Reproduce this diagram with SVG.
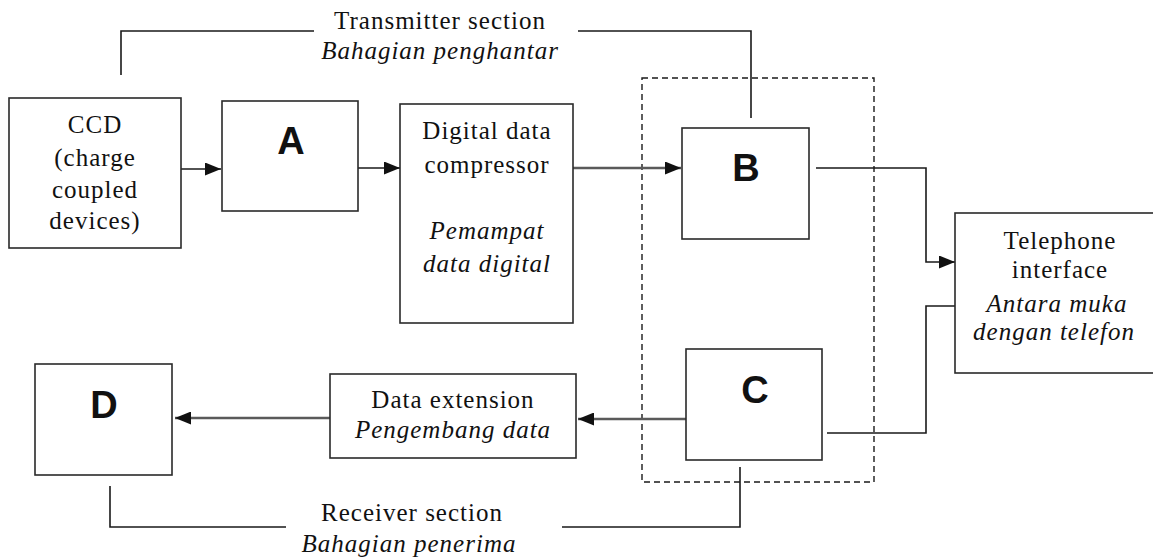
<svg xmlns="http://www.w3.org/2000/svg" width="1153" height="558" viewBox="0 0 1153 558">
<style>
.box{fill:#fff;stroke:#2a2a2a;stroke-width:1.6}
.t{font-family:"Liberation Serif","Times New Roman",serif;font-size:25px;letter-spacing:1px;text-anchor:middle;fill:#111}
.i{font-style:italic}
.big{font-family:"Liberation Sans",Arial,sans-serif;font-weight:bold;font-size:38px;text-anchor:middle;fill:#111}
.ln{fill:none;stroke:#1a1a1a;stroke-width:1.6}
.gr{fill:none;stroke:#5a5a5a;stroke-width:2.6}
.dash{fill:none;stroke:#1a1a1a;stroke-width:1.4;stroke-dasharray:6 4}
</style>
<defs>
<marker id="ah" markerWidth="16" markerHeight="13" refX="16" refY="6.5" orient="auto" markerUnits="userSpaceOnUse">
<path d="M0,0 L16,6.5 L0,13 z" fill="#111"/>
</marker>
</defs>
<rect width="1153" height="558" fill="#fff"/>
<g id="transmitter-label">
<text class="t" x="440" y="29">Transmitter section</text>
<text class="t i" x="440" y="59">Bahagian penghantar</text>
</g>
<g id="receiver-label">
<text class="t" x="412" y="521">Receiver section</text>
<text class="t i" x="409" y="552">Bahagian penerima</text>
</g>
<g id="group-BC">
<rect class="dash" x="642" y="78" width="232" height="404"/>
</g>
<g id="connectors">
<polyline class="ln" points="121,75 121,31 314,31"/>
<polyline class="ln" points="578,31 751,31 751,118"/>
<line class="ln" x1="181" y1="169" x2="221" y2="169" marker-end="url(#ah)"/>
<line class="ln" x1="358" y1="168" x2="400" y2="168" marker-end="url(#ah)"/>
<line class="gr" x1="573" y1="168" x2="681" y2="168" marker-end="url(#ah)"/>
<polyline class="ln" points="816,168 926,168 926,262 955,262" marker-end="url(#ah)"/>
<polyline class="ln" points="955,306 926,306 926,433 827,433"/>
<line class="gr" x1="686" y1="419" x2="578" y2="419" marker-end="url(#ah)"/>
<line class="gr" x1="330" y1="418" x2="175" y2="418" marker-end="url(#ah)"/>
<polyline class="ln" points="110,486 110,527 286,527"/>
<polyline class="ln" points="562,527 740,527 740,467"/>
</g>
<g id="ccd">
<rect class="box" x="9" y="98" width="172" height="150"/>
<text class="t" x="95" y="133">CCD</text>
<text class="t" x="95" y="166">(charge</text>
<text class="t" x="95" y="198">coupled</text>
<text class="t" x="95" y="229">devices)</text>
</g>
<g id="A">
<rect class="box" x="222" y="101" width="136" height="110"/>
<text class="big" x="291" y="154">A</text>
</g>
<g id="compressor">
<rect class="box" x="400" y="104" width="173" height="219"/>
<text class="t" x="487" y="139">Digital data</text>
<text class="t" x="487" y="173">compressor</text>
<text class="t i" x="487" y="239">Pemampat</text>
<text class="t i" x="487" y="272">data digital</text>
</g>
<g id="B">
<rect class="box" x="682" y="128" width="127" height="111"/>
<text class="big" x="746" y="181">B</text>
</g>
<g id="telephone">
<rect class="box" x="955" y="213" width="230" height="160"/>
<text class="t" x="1060" y="249">Telephone</text>
<text class="t" x="1060" y="278">interface</text>
<text class="t i" x="1057" y="312">Antara muka</text>
<text class="t i" x="1054" y="340">dengan telefon</text>
</g>
<g id="C">
<rect class="box" x="686" y="349" width="136" height="111"/>
<text class="big" x="755" y="403">C</text>
</g>
<g id="extension">
<rect class="box" x="330" y="374" width="246" height="84"/>
<text class="t" x="453" y="408">Data extension</text>
<text class="t i" x="453" y="438">Pengembang data</text>
</g>
<g id="D">
<rect class="box" x="35" y="364" width="137" height="111"/>
<text class="big" x="104" y="418">D</text>
</g>
</svg>
